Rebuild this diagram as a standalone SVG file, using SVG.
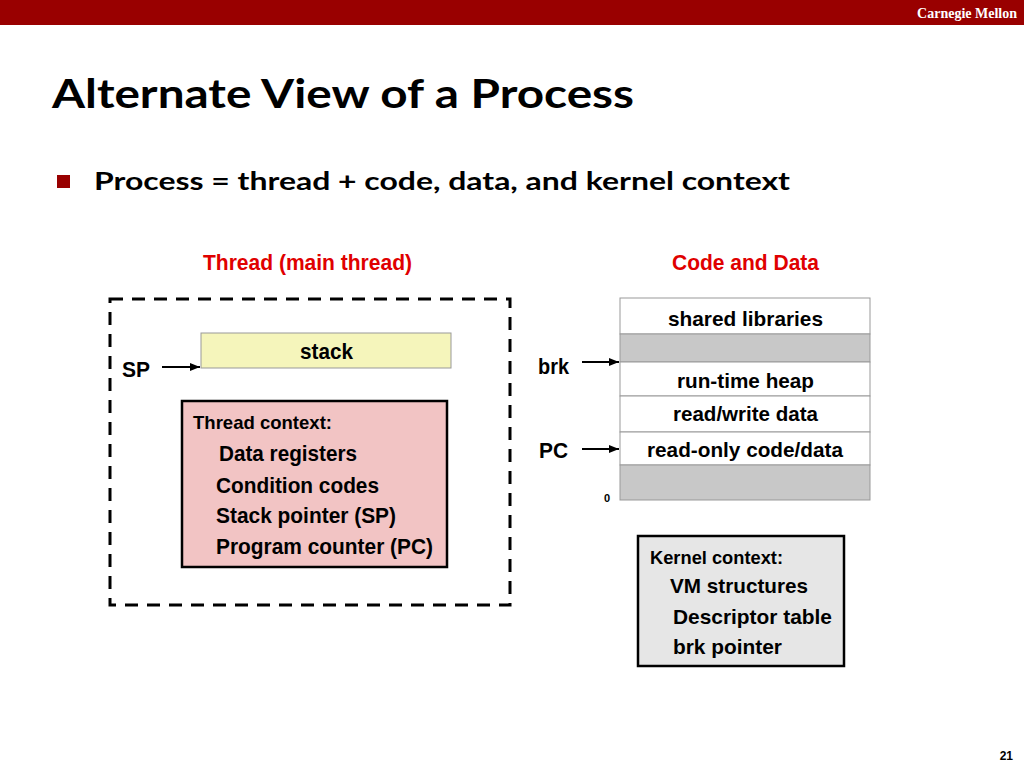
<svg xmlns="http://www.w3.org/2000/svg" width="1024" height="768" viewBox="0 0 1024 768">
<defs>
<marker id="arr" viewBox="0 0 10 10" refX="10" refY="5" markerWidth="5" markerHeight="5" orient="auto" markerUnits="strokeWidth">
<path d="M0,1 L10,5 L0,9 z" fill="#000"/>
</marker>
</defs>
<style>
.n{font-family:"Liberation Sans Narrow","Liberation Sans",Arial,sans-serif;font-weight:bold;fill:#000}
.c{text-anchor:middle}
.red{fill:#e00000}
.cal{font-family:Lato,"Open Sans","Liberation Sans",sans-serif;font-weight:bold;fill:#000}
.seg{stroke:#999;stroke-width:1}
.wh{fill:#fff}
.gr{fill:#c8c8c8}
.conn{stroke:#000;stroke-width:2;fill:none;marker-end:url(#arr)}
</style>
<rect width="1024" height="768" fill="#fff"/>
<g id="header">
<rect x="0" y="0" width="1024" height="25" fill="#990000"/>
<text x="1017" y="18" text-anchor="end" font-family="'Liberation Serif',serif" font-weight="bold" font-size="14" fill="#fff">Carnegie Mellon</text>
<text class="cal" x="52" y="108" font-size="40" textLength="582" lengthAdjust="spacingAndGlyphs">Alternate View of a Process</text>
<rect x="57" y="175" width="13" height="13" fill="#990000"/>
<text class="cal" x="94" y="190" font-size="25" textLength="696" lengthAdjust="spacingAndGlyphs">Process = thread + code, data, and kernel context</text>
<text class="n" x="1013" y="760" font-size="12" text-anchor="end">21</text>
</g>
<g id="thread">
<text class="n red" x="203" y="270" font-size="22" textLength="209" lengthAdjust="spacingAndGlyphs">Thread (main thread)</text>
<rect x="110" y="299" width="400" height="306" fill="none" stroke="#000" stroke-width="3" stroke-dasharray="13,9"/>
</g>
<g id="stack">
<rect x="201" y="333" width="250" height="35" fill="#f5f5bb" stroke="#999" stroke-width="1"/>
<text class="n" x="300" y="359" font-size="22" textLength="53" lengthAdjust="spacingAndGlyphs">stack</text>
</g>
<g id="sp-label">
<text class="n" x="122" y="377" font-size="22" textLength="28" lengthAdjust="spacingAndGlyphs">SP</text>
</g>
<g id="thread-context">
<rect x="182" y="401" width="265" height="166" fill="#f2c4c4" stroke="#000" stroke-width="2.5"/>
<text class="n" x="193" y="429" font-size="19" textLength="139" lengthAdjust="spacingAndGlyphs">Thread context:</text>
<text class="n" x="219" y="461" font-size="22" textLength="138" lengthAdjust="spacingAndGlyphs">Data registers</text>
<text class="n" x="216" y="493" font-size="22" textLength="163" lengthAdjust="spacingAndGlyphs">Condition codes</text>
<text class="n" x="216" y="523" font-size="22" textLength="180" lengthAdjust="spacingAndGlyphs">Stack pointer (SP)</text>
<text class="n" x="216" y="554" font-size="22" textLength="217" lengthAdjust="spacingAndGlyphs">Program counter (PC)</text>
</g>
<g id="code-data">
<text class="n red" x="672" y="270" font-size="22" textLength="147" lengthAdjust="spacingAndGlyphs">Code and Data</text>
</g>
<g id="memory">
<rect class="seg wh" x="620" y="298" width="250" height="36"/>
<rect class="seg gr" x="620" y="334" width="250" height="28"/>
<rect class="seg wh" x="620" y="362" width="250" height="34"/>
<rect class="seg wh" x="620" y="396" width="250" height="36"/>
<rect class="seg wh" x="620" y="432" width="250" height="33"/>
<rect class="seg gr" x="620" y="465" width="250" height="35"/>
<text class="n" x="668" y="326" font-size="21" textLength="155" lengthAdjust="spacingAndGlyphs">shared libraries</text>
<text class="n" x="677" y="388" font-size="21" textLength="137" lengthAdjust="spacingAndGlyphs">run-time heap</text>
<text class="n" x="673" y="421" font-size="21" textLength="145" lengthAdjust="spacingAndGlyphs">read/write data</text>
<text class="n" x="647" y="457" font-size="21" textLength="196" lengthAdjust="spacingAndGlyphs">read-only code/data</text>
<text class="n" x="604" y="502" font-size="11">0</text>
</g>
<g id="brk-label">
<text class="n" x="538" y="374" font-size="22" textLength="31" lengthAdjust="spacingAndGlyphs">brk</text>
</g>
<g id="pc-label">
<text class="n" x="539" y="458" font-size="22" textLength="29" lengthAdjust="spacingAndGlyphs">PC</text>
</g>
<g id="kernel-context">
<rect x="638" y="536" width="206" height="130" fill="#e6e6e6" stroke="#000" stroke-width="2.5"/>
<text class="n" x="650" y="564" font-size="18" textLength="133" lengthAdjust="spacingAndGlyphs">Kernel context:</text>
<text class="n" x="670" y="593" font-size="21" textLength="138" lengthAdjust="spacingAndGlyphs">VM structures</text>
<text class="n" x="673" y="624" font-size="21" textLength="159" lengthAdjust="spacingAndGlyphs">Descriptor table</text>
<text class="n" x="673" y="654" font-size="21" textLength="109" lengthAdjust="spacingAndGlyphs">brk pointer</text>
</g>
<g id="connectors">
<line class="conn" x1="162" y1="367" x2="200" y2="367"/>
<line class="conn" x1="582" y1="362" x2="619" y2="362"/>
<line class="conn" x1="582" y1="449" x2="619" y2="449"/>
</g>
</svg>
